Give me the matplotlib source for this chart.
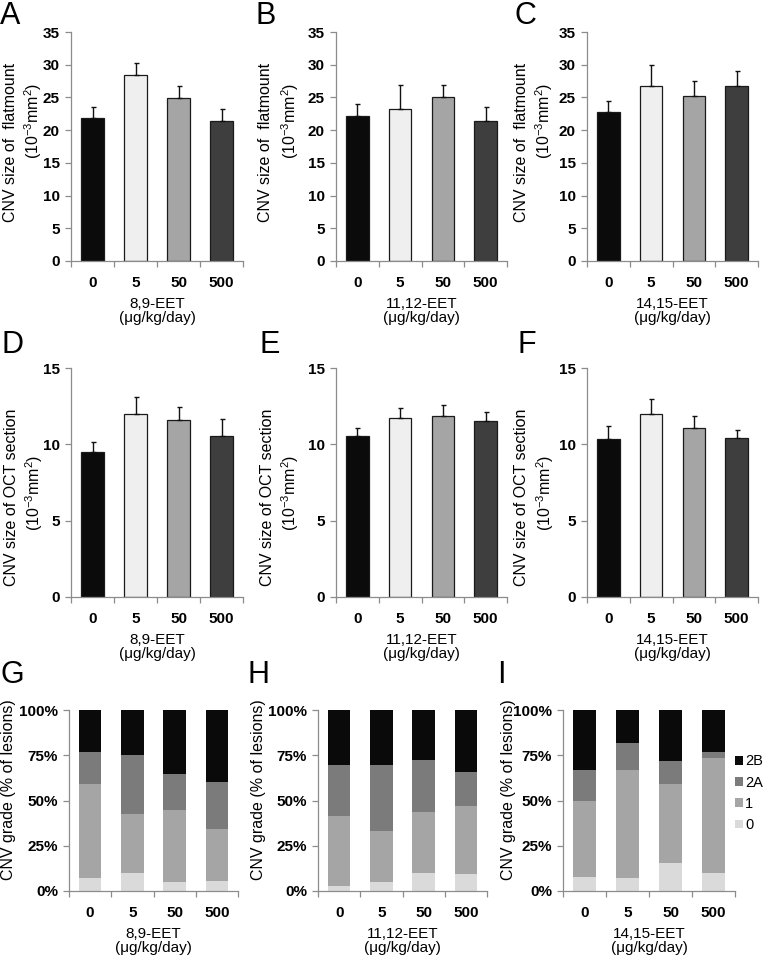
import numpy as np
import matplotlib.pyplot as plt
from matplotlib.ticker import PercentFormatter

plt.rcParams['font.family'] = ['Liberation Sans', 'DejaVu Sans']
plt.rcParams['mathtext.fontset'] = 'custom'
plt.rcParams['mathtext.rm'] = 'Liberation Sans'
plt.rcParams['mathtext.it'] = 'Liberation Sans:italic'
plt.rcParams['mathtext.bf'] = 'Liberation Sans:bold'

doses = ['0', '5', '50', '500']
eets = ['8,9-EET', '11,12-EET', '14,15-EET']

# CNV size of flatmount (10^-3 mm^2), mean and upper error
flat_mean = [[21.9, 28.4, 24.9, 21.4],
             [22.2, 23.3, 25.1, 21.4],
             [22.8, 26.8, 25.2, 26.7]]
flat_err = [[1.7, 1.8, 1.8, 1.9],
            [1.8, 3.6, 1.8, 2.1],
            [1.7, 3.1, 2.3, 2.4]]

# CNV size of OCT section (10^-3 mm^2)
oct_mean = [[9.5, 12.0, 11.57, 10.57],
            [10.55, 11.75, 11.84, 11.55],
            [10.35, 12.0, 11.1, 10.4]]
oct_err = [[0.67, 1.07, 0.9, 1.06],
           [0.53, 0.64, 0.76, 0.57],
           [0.82, 0.94, 0.77, 0.57]]

# CNV grade (% of lesions)
grade_0 = [[7.4, 10.1, 4.8, 5.7],
           [2.8, 5.0, 10.1, 9.4],
           [7.7, 7.0, 15.3, 9.9]]
grade_1 = [[51.5, 32.5, 40.2, 28.4],
           [38.9, 28.4, 33.6, 37.5],
           [42.0, 59.7, 44.0, 63.4]]
grade_2a = [[18.0, 32.5, 19.9, 25.9],
            [28.0, 36.0, 28.4, 19.0],
            [17.0, 15.3, 12.3, 3.3]]
grade_2b = [[23.1, 24.9, 35.1, 40.0],
            [30.3, 30.6, 27.9, 34.1],
            [33.3, 18.0, 28.4, 23.4]]
grade_names = ['0', '1', '2A', '2B']

dose_colors = ['#0b0b0b', '#efefef', '#a5a5a5', '#3e3e3e']
grade_colors = ['#dadada', '#a5a5a5', '#7b7b7b', '#0a0a0a']
spine_col = '#8c8c8c'

W, H = 765, 958
fig = plt.figure(figsize=(W / 100, H / 100), dpi=100)


def px_axes(x0, y0, x1, y1):
    return fig.add_axes([x0 / W, 1 - y1 / H, (x1 - x0) / W, (y1 - y0) / H])


def px_text(x, y, s, **kw):
    fig.text(x / W, 1 - y / H, s, **kw)


def style(ax, xlabel):
    x = np.arange(len(doses))
    ax.spines['top'].set_visible(False)
    ax.spines['right'].set_visible(False)
    for s in ['left', 'bottom']:
        ax.spines[s].set_color(spine_col)
        ax.spines[s].set_linewidth(0.9)
    ax.set_xlim(-0.5, 3.5)
    ax.set_xticks(x)
    ax.set_xticklabels(doses, fontweight='bold', fontsize=11)
    ax.set_xticks(np.arange(-0.5, 4), minor=True)
    ax.tick_params(axis='x', which='major', length=0, pad=11)
    ax.tick_params(axis='x', which='minor', length=4, direction='out', color=spine_col, width=0.9)
    ax.tick_params(axis='y', length=4, direction='out', color=spine_col, width=0.9, pad=4, labelsize=11)
    for lab in ax.get_yticklabels():
        lab.set_fontweight('bold')
    ax.set_xlabel(xlabel + '\n(μg/kg/day)', fontsize=11, linespacing=0.95, labelpad=5)


unit = '(10$^{-3}$mm$^{2}$)'
col_x = [(71, 243), (336, 507), (587, 758)]
x = np.arange(len(doses))

# row 1: flatmount
for i in range(3):
    ax = px_axes(col_x[i][0], 32, col_x[i][1], 261)
    ax.bar(x, flat_mean[i], width=0.53, color=dose_colors, edgecolor='#1a1a1a', linewidth=0.9, zorder=2)
    ax.errorbar(x, flat_mean[i], yerr=[np.zeros(4), flat_err[i]], fmt='none', ecolor='#111111',
                elinewidth=1, capsize=1.8, capthick=1, zorder=3)
    ax.set_ylim(0, 35)
    ax.set_yticks(np.arange(0, 36, 5))
    style(ax, eets[i])

# row 2: OCT section
for i in range(3):
    ax = px_axes(col_x[i][0], 368, col_x[i][1], 597)
    ax.bar(x, oct_mean[i], width=0.53, color=dose_colors, edgecolor='#1a1a1a', linewidth=0.9, zorder=2)
    ax.errorbar(x, oct_mean[i], yerr=[np.zeros(4), oct_err[i]], fmt='none', ecolor='#111111',
                elinewidth=1, capsize=1.8, capthick=1, zorder=3)
    ax.set_ylim(0, 15)
    ax.set_yticks([0, 5, 10, 15])
    style(ax, eets[i])

# row 3: CNV grade
row3_x = [(69, 238), (318, 487), (563, 735)]
for i in range(3):
    ax = px_axes(row3_x[i][0], 710, row3_x[i][1], 891)
    stacks = [grade_0[i], grade_1[i], grade_2a[i], grade_2b[i]]
    bottom = np.zeros(4)
    handles = []
    for vals, c, name in zip(stacks, grade_colors, grade_names):
        b = ax.bar(x, vals, width=0.53, bottom=bottom, color=c, label=name, zorder=2)
        handles.append(b)
        bottom = bottom + np.array(vals)
    ax.set_ylim(0, 100)
    ax.set_yticks([0, 25, 50, 75, 100])
    ax.yaxis.set_major_formatter(PercentFormatter(decimals=0))
    style(ax, eets[i])
    if i == 2:
        ax.legend(handles[::-1], grade_names[::-1], loc='center left', bbox_to_anchor=(1.0, 0.54),
                  frameon=False, fontsize=10.5, handlelength=0.55, handleheight=0.55,
                  handletextpad=0.15, labelspacing=0.5, borderpad=0, borderaxespad=0.0)

# y labels
for xc1, xc2 in [(11, 33), (266, 290), (521, 544)]:
    px_text(xc1, 142, 'CNV size of  flatmount', rotation=90, ha='center', va='center', fontsize=11.5)
    px_text(xc2, 121, unit, rotation=90, ha='center', va='center', fontsize=11.5)
for xc1, xc2 in [(12, 34), (267, 290), (522, 545)]:
    px_text(xc1, 497, 'CNV size of OCT section', rotation=90, ha='center', va='center', fontsize=11.5)
    px_text(xc2, 493, unit, rotation=90, ha='center', va='center', fontsize=11.5)
for xc in [9, 259, 508]:
    px_text(xc, 790, 'CNV grade (% of lesions)', rotation=90, ha='center', va='center', fontsize=11.5)

# panel letters
for letter, (lx, ly) in zip('ABCDEFGHI', [(0, 1), (256, 1), (514, 1), (1, 330), (260, 330), (517, 330),
                                          (1, 660), (247, 660), (497, 660)]):
    px_text(lx, ly, letter, fontsize=22, ha='left', va='top')

plt.savefig('out.png', dpi=100)
